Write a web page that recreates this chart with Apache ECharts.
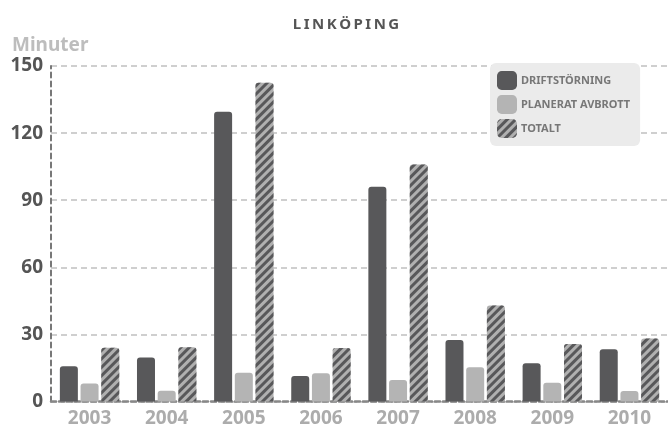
<!DOCTYPE html>
<html>
<head>
<meta charset="utf-8">
<script src="https://cdn.jsdelivr.net/npm/echarts@6/dist/echarts.min.js"></script>
<style>
html,body{margin:0;padding:0;background:#fff;}
#c{width:668px;height:430px;}
</style>
</head>
<body>
<div id="c"></div>
<script>
const years = ['2003','2004','2005','2006','2007','2008','2009','2010'];
const drift = [15.8, 19.7, 129.5, 11.4, 96, 27.5, 17.1, 23.4];
const planerat = [8.1, 4.8, 12.9, 12.6, 9.6, 15.3, 8.4, 4.7];
const totalt = [24.0, 24.3, 142.5, 23.9, 106, 42.9, 25.7, 28.2];
const yTicks = [0, 30, 60, 90, 120, 150];

const FONT = '"Noto Sans", "Open Sans", "DejaVu Sans", sans-serif';
const chart = echarts.init(document.getElementById('c'), null, {renderer:'canvas'});
chart.setOption({
  animation: false,
  backgroundColor: '#ffffff',
  title: [
    {text: 'L\u2009I\u2009N\u2009K\u2009Ö\u2009P\u2009I\u2009N\u2009G', left: 341, top: 12, textAlign: 'center',
     textStyle: {fontFamily: FONT, fontSize: 15, fontWeight: 'bold', color: '#555'}},
    {text: 'Minuter', left: 7, top: 31,
     textStyle: {fontFamily: FONT, fontSize: 19, fontWeight: 'bold', color: '#bdbdbd'}}
  ],
  legend: {
    orient: 'vertical', left: 490, top: 63,
    padding: [8, 10, 8, 7],
    itemWidth: 20, itemHeight: 19, itemGap: 5,
    backgroundColor: '#ebebeb', borderRadius: 6,
    icon: 'roundRect',
    textStyle: {fontFamily: FONT, fontSize: 11, fontWeight: 'bold', color: '#777', padding: [0,0,0,-1]},
    data: ['DRIFTSTÖRNING', 'PLANERAT AVBROTT', 'TOTALT']
  },
  grid: {left: 51, right: 0, top: 66, bottom: 28.5, containLabel: false},
  xAxis: {
    type: 'category', data: years, offset: 2,
    axisLine: {show: true, lineStyle: {color: '#888', width: 2.5, type: [5, 3]}},
    axisTick: {show: false},
    axisLabel: {fontFamily: FONT, fontSize: 19, fontWeight: 'bold', color: '#acacac', margin: 6},
    splitLine: {show: false}
  },
  yAxis: {
    type: 'value', min: yTicks[0], max: yTicks[yTicks.length-1], interval: 30,
    axisLine: {show: true, lineStyle: {color: '#777', width: 2, type: [5, 4]}},
    axisTick: {show: false},
    axisLabel: {fontFamily: FONT, fontSize: 19, fontWeight: 'bold', color: '#555', margin: 8},
    splitLine: {show: true, lineStyle: {color: '#cfcfcf', width: 2, type: [6, 4]}}
  },
  series: [
    {name: 'DRIFTSTÖRNING', type: 'bar', data: drift, barWidth: 18, barGap: '15%',
     itemStyle: {color: '#58585a', borderRadius: [3, 3, 0, 0]}},
    {name: 'PLANERAT AVBROTT', type: 'bar', data: planerat, barWidth: 18, barGap: '15%',
     itemStyle: {color: '#b4b4b4', borderRadius: [3, 3, 0, 0]}},
    {name: 'TOTALT', type: 'bar', data: totalt, barWidth: 18, barGap: '15%',
     itemStyle: {color: '#b0b0b0', borderRadius: [3, 3, 0, 0],
       decal: {symbol: 'rect', symbolSize: 1, color: '#58585a',
               dashArrayX: [1, 0], dashArrayY: [2.5, 2.5], rotation: -Math.PI / 4}}}
  ]
});
</script>
</body>
</html>
